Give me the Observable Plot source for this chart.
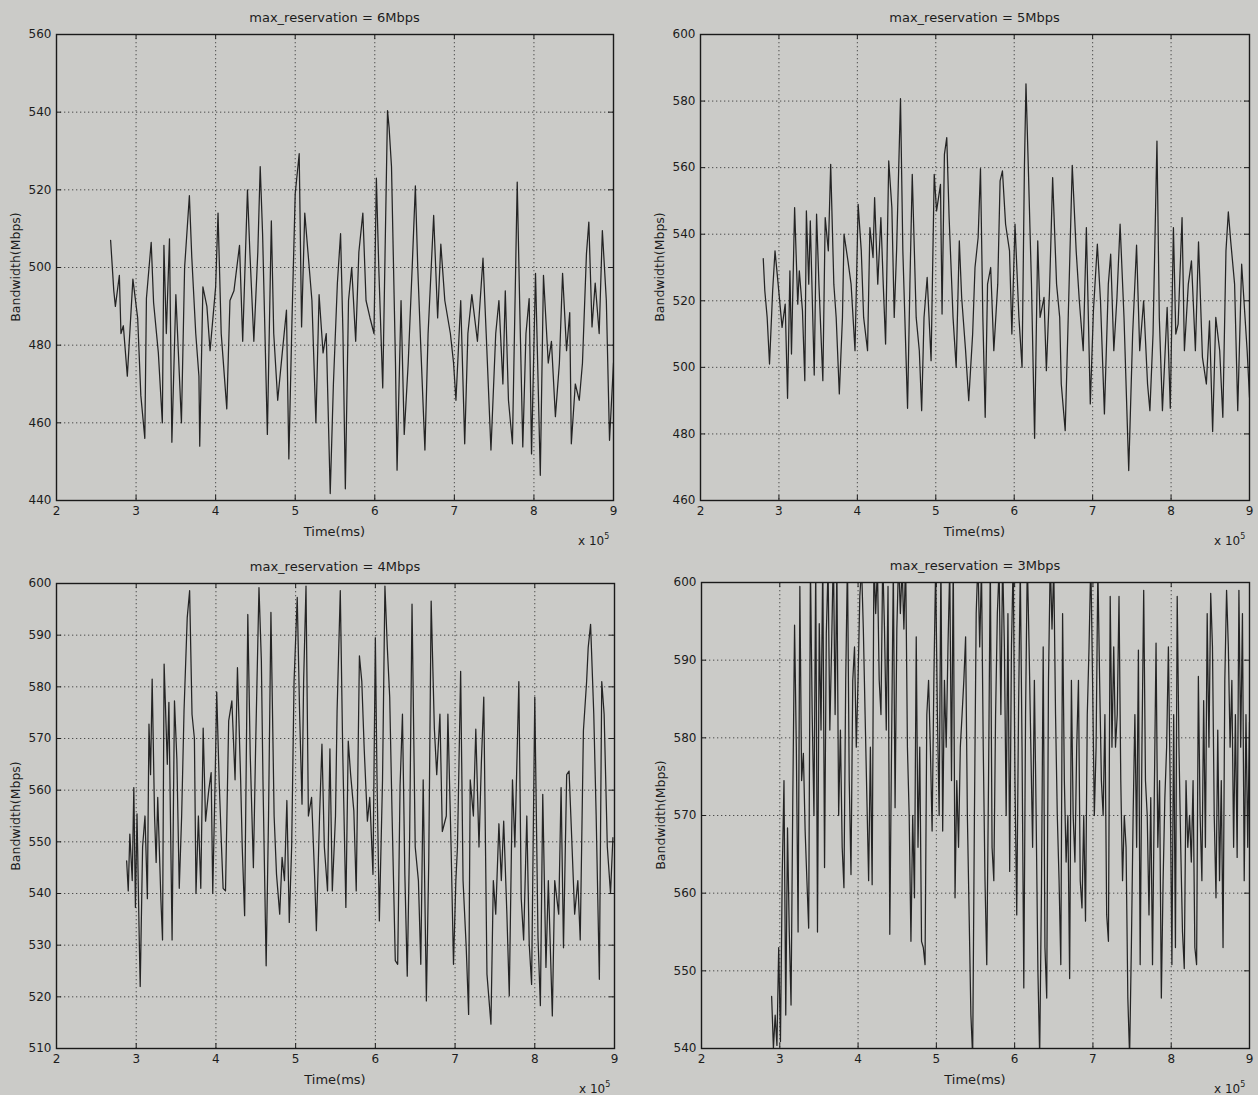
<!DOCTYPE html>
<html>
<head>
<meta charset="utf-8">
<script src="https://cdn.jsdelivr.net/npm/d3@7"></script>
<script src="https://cdn.jsdelivr.net/npm/@observablehq/plot@0.6"></script>
<style>
  body { margin: 0; background: #cbcbc8; }
  #root { position: relative; width: 1258px; height: 1095px; overflow: hidden;
          font-family: "DejaVu Sans", "Liberation Sans", Arial, sans-serif; color: #1c1c1c; }
  .lbl { position: absolute; font-size: 12px; white-space: nowrap; line-height: 1; }
  .plot { position: absolute; }
</style>
</head>
<body>
<div id="root"></div>
<script>
// ---------- data ----------
const xTicks = [2, 3, 4, 5, 6, 7, 8, 9];
const titles = ["max_reservation = 6Mbps", "max_reservation = 5Mbps", "max_reservation = 4Mbps", "max_reservation = 3Mbps"];
const xLabel = "Time(ms)";
const yLabel = "Bandwidth(Mbps)";
const xExponent = "5";

const yTicks6 = [440, 460, 480, 500, 520, 540, 560];
const yTicks5 = [460, 480, 500, 520, 540, 560, 580, 600];
const yTicks4 = [510, 520, 530, 540, 550, 560, 570, 580, 590, 600];
const yTicks3 = [540, 550, 560, 570, 580, 590, 600];

// time (x 10^5 ms) of each read-off sample
const time6 = [2.68,2.72,2.74,2.79,2.81,2.84,2.89,2.96,3.02,3.06,3.11,3.13,3.19,3.22,3.28,3.33,3.35,3.38,3.42,3.45,
  3.50,3.57,3.61,3.67,3.70,3.75,3.79,3.80,3.84,3.89,3.93,4.00,4.03,4.07,4.14,4.18,4.23,4.30,4.34,4.40,
  4.43,4.48,4.53,4.56,4.59,4.65,4.70,4.73,4.78,4.84,4.89,4.92,4.96,5.00,5.05,5.08,5.12,5.16,5.21,5.26,
  5.30,5.35,5.39,5.44,5.48,5.53,5.57,5.60,5.63,5.67,5.71,5.76,5.80,5.85,5.89,5.94,5.99,6.02,6.05,6.10,
  6.16,6.18,6.21,6.26,6.28,6.33,6.37,6.42,6.47,6.51,6.54,6.58,6.63,6.67,6.74,6.79,6.83,6.88,6.95,6.99,
  7.02,7.08,7.13,7.17,7.22,7.29,7.36,7.40,7.46,7.52,7.56,7.61,7.64,7.68,7.73,7.79,7.82,7.86,7.90,7.94,
  7.97,8.02,8.08,8.12,8.18,8.22,8.27,8.32,8.36,8.41,8.45,8.47,8.52,8.57,8.61,8.66,8.69,8.73,8.77,8.82,
  8.86,8.91,8.95,9.00];
const bw6 = [507,494,490,498,483,485,472,497,487,467,456,492,506.5,491,478,460,505.7,483,507.4,455,
  493,460,500,518.5,502.7,483,472,454,495,490,478.6,495,514,483,463.6,491.5,494,505.7,481,520,
  504,481,504,526,508.7,457,512,483,465.8,478.6,489,450.7,487,519,529.3,484.7,514,504,491.5,460,
  493,478,483,441.8,470,496,508.7,483,443,491.5,500,481,504,514,491.5,487,483,523,500,469,
  540.4,536,526,475.4,447.8,491.5,457,475.4,500,521,500,478.6,453,483,513.4,487,506,491.5,483,475.4,
  465.8,491.5,454.6,483,493,481,502.4,483,453,483,491.5,470,494,465.8,454.6,522,491.5,453.8,483,492,
  452,498.5,446.5,498,475.4,481,461.6,475.4,498.5,478.6,488.4,454.6,470,465.8,475.4,503.5,511.7,484.7,496,483,
  509.5,491.5,455.5,475.4];

const time5 = [2.80,2.82,2.85,2.88,2.92,2.95,2.99,3.04,3.08,3.11,3.14,3.16,3.20,3.24,3.26,3.30,3.33,3.35,3.38,3.40,
  3.45,3.48,3.51,3.56,3.59,3.63,3.66,3.70,3.73,3.77,3.81,3.83,3.88,3.92,3.97,4.01,4.05,4.08,4.13,4.16,
  4.20,4.22,4.26,4.30,4.33,4.36,4.40,4.44,4.47,4.50,4.55,4.58,4.64,4.67,4.70,4.75,4.79,4.82,4.85,4.89,
  4.94,4.98,5.01,5.06,5.08,5.11,5.14,5.17,5.22,5.26,5.30,5.33,5.38,5.42,5.47,5.50,5.54,5.57,5.60,5.63,
  5.66,5.70,5.74,5.79,5.82,5.85,5.89,5.94,5.97,6.01,6.06,6.10,6.13,6.15,6.18,6.22,6.26,6.30,6.33,6.38,
  6.41,6.45,6.49,6.54,6.58,6.60,6.65,6.70,6.74,6.79,6.83,6.88,6.92,6.97,7.01,7.06,7.10,7.15,7.20,7.23,
  7.27,7.31,7.35,7.40,7.46,7.51,7.56,7.60,7.65,7.70,7.73,7.77,7.82,7.85,7.89,7.95,7.99,8.03,8.06,8.09,
  8.14,8.17,8.22,8.26,8.31,8.35,8.40,8.45,8.49,8.53,8.57,8.62,8.66,8.70,8.73,8.76,8.81,8.85,8.90,8.97,9.00];
const bw5 = [532.7,523,515,501,523,535,525,512,519,490.7,529,504,548,519,529,517,496,547,525,544,
  497.7,546,525,496,545,535,561,525,515,492,515,540,532,525,505,549,535,515,505,542,
  533,551,525,545,525,507,562,548,515,535,580.7,535,487.7,525,558,515,505,487,515,527,
  502,558,547,555,516,564,569,545,515,500,538,521,505,490,510,530,539,559.7,515,485,
  525,530,505,525,556,559,543,535,510,543,515,500,560,585.2,560,525,478.7,538,515,521,
  499,523,557,525,515,495,481,525,560.7,535,520,505,542,489,517,537,520,486,525,534,
  505,521,543,515,469,510,536.7,505,520,495,487,510,568,515,487,518,487.7,542,510,513,
  545,505,525,532,505,537.7,503,495,514,480.7,515,505,485,535,546.7,538,525,487,531,505,491];

const time4 = [2.88,2.90,2.92,2.95,2.97,2.99,3.01,3.04,3.05,3.08,3.11,3.14,3.16,3.18,3.20,3.23,3.25,3.27,3.31,3.33,
  3.35,3.39,3.41,3.45,3.48,3.51,3.54,3.57,3.60,3.64,3.67,3.70,3.73,3.75,3.78,3.81,3.84,3.87,3.91,3.94,
  3.96,3.99,4.01,4.04,4.07,4.09,4.12,4.16,4.20,4.24,4.27,4.31,4.33,4.36,4.40,4.43,4.47,4.50,4.54,4.57,
  4.59,4.63,4.66,4.69,4.73,4.76,4.80,4.83,4.86,4.89,4.92,4.95,4.98,5.00,5.02,5.05,5.08,5.10,5.13,5.16,
  5.20,5.24,5.26,5.30,5.33,5.36,5.40,5.43,5.46,5.50,5.52,5.56,5.59,5.63,5.66,5.69,5.73,5.76,5.80,5.83,
  5.86,5.90,5.93,5.97,6.00,6.02,6.05,6.09,6.12,6.15,6.18,6.21,6.25,6.28,6.31,6.34,6.37,6.40,6.43,6.46,
  6.50,6.54,6.57,6.60,6.64,6.67,6.70,6.74,6.77,6.81,6.84,6.89,6.91,6.95,6.98,7.01,7.03,7.07,7.10,7.14,
  7.17,7.19,7.23,7.26,7.30,7.33,7.36,7.40,7.45,7.48,7.51,7.55,7.58,7.61,7.65,7.68,7.72,7.75,7.80,7.83,
  7.86,7.90,7.93,7.96,8.00,8.04,8.07,8.10,8.14,8.17,8.22,8.25,8.30,8.33,8.36,8.40,8.43,8.46,8.50,8.54,
  8.57,8.61,8.65,8.67,8.70,8.74,8.77,8.81,8.84,8.87,8.91,8.95,8.98];
const bw4 = [546.3,540.5,551.5,542.5,560.5,537.3,555.4,529.5,522,549,555,539,572.8,563,581.5,555,546,558.6,538.6,531,
  584.4,565,577,531,577.3,566,541,555,575.4,593.4,598.6,574.7,570,540,555,541,572,554,560,563.4,
  540,562,579,562,549,541,540.5,573.4,577.3,562,583.7,562,549,535.7,594,567,545,570,599.2,585,
  562,526,555,594.4,555,543.7,536,547,542.5,558,534.4,549,581,589.2,597.3,574.7,557.3,581,599.5,555,
  558.6,542.5,532.8,555,568.9,549,540.5,568,540.5,555,575.4,598.6,568,537.3,569.5,563,556,540.5,586,581,
  568,554,558.6,543.7,589.5,563,534.7,562,599.5,587.6,578,555,527,526.3,560.8,574.7,543.7,524,550.8,596,
  549,542.5,526.3,562,519.2,546.3,596.6,572,563,574.7,552,555,574.7,549,526.3,542.5,549,583,542.5,529.5,
  516.6,562,555,571.8,549,565.4,578,524.4,514.7,542.5,536,553.5,542.5,554,536,520.2,562,549,581,539,
  531,555,530.2,522.4,578,531.5,518.3,559.2,525.7,542.5,516.3,542.5,536,560.5,529.5,563,563.7,552,536,542.5,
  531,571.5,581,587.6,592.1,574.7,555,523.4,581,574.7,549,540,550.8];

// 3Mbps trace: evenly spaced samples from 2.896 to 9 (x 10^5 ms)
const t3Start = 2.896, t3End = 9;
const bw3 = [546.7,540,544.3,540.4,553,540.9,562.4,574.5,544.3,568.4,555,545.6,
  572.3,594.5,578.8,555,599.5,574.5,578,568,
  561.6,555.5,602,583,570,602,555,594.7,581,603,563.3,593.4,602,581,591.7,604,583,602,570,581,
  565.9,560.7,587.4,603,574.5,562.4,587.4,591.7,578.8,587.4,598.2,602,594,583,572.3,561.6,578.8,561.1,603,596,
  602,587.4,583,603,594,581,599.5,554.7,578.8,602,571,594,603,596,602,594,603,578.8,570,553.8,
  570,559.4,593,565.9,578.8,553.8,553,550.8,583,587.4,578.8,568,587.4,602,583,570,603,568,587.4,578.8,
  591.7,602,574.5,603,559.4,574.5,565.9,578.8,583,587.4,593,570,557.2,544.3,539,570,596,603,591.7,602,
  578.8,561.6,550.8,574.5,603,565.9,561.6,583,596,602,583,603,591.7,570,596,562.8,591.7,603,574.5,557.2,
  583,602,578.8,547.8,583,603,591.7,578.8,565.9,587.4,570,550,539,560,591.7,553,546.5,587.4,603,594,
  602,583,570,561.6,550.8,596,574.5,564,570,549,587.4,570,564,578.8,587.4,561.6,558.1,570,556.4,583,
  591.7,603,587.4,570,578.8,602,587.4,574.5,570,583,557.2,553.8,598.2,578.8,591.7,578.8,583,598.2,574.5,561.6,
  570,565.9,546.5,539,553,570,583,565.9,591.3,550.8,578.8,599,574.5,570,557.2,572.3,550.8,572.3,592.2,565.9,
  574.5,546.5,561.6,572.3,578.8,591.7,574.5,550.8,583,553,598.2,578.8,565.9,555,550.3,574.5,565.9,570,564,574.5,
  553,550.8,587.9,570,561.6,584.8,565.9,596,578.8,598.6,591.7,570,559.4,581,561.6,574.5,553,587.4,599,591.7,
  578.8,587.4,565.9,583,564.6,599,578.8,596,561.6,583,565.9,582];
const time3 = bw3.map((_, i) => t3Start + i * (t3End - t3Start) / (bw3.length - 1));

// ---------- layout ----------
const panels = [
  {times: time6, values: bw6, domain: [440, 560], yTicks: yTicks6, title: titles[0], left: 56, right: 613, top: 34, bottom: 500},
  {times: time5, values: bw5, domain: [460, 600], yTicks: yTicks5, title: titles[1], left: 700, right: 1249, top: 34, bottom: 500},
  {times: time4, values: bw4, domain: [510, 600], yTicks: yTicks4, title: titles[2], left: 56, right: 614, top: 583, bottom: 1048},
  {times: time3, values: bw3, domain: [540, 600], yTicks: yTicks3, title: titles[3], left: 701, right: 1249, top: 582, bottom: 1048}
];

const root = document.getElementById("root");
const FONT = '"DejaVu Sans", "Liberation Sans", Arial, sans-serif';

function addLabel(html, x, y, extra) {
  const d = document.createElement("div");
  d.className = "lbl";
  d.innerHTML = html;
  d.style.left = x + "px";
  d.style.top = y + "px";
  if (extra) Object.assign(d.style, extra);
  root.appendChild(d);
  return d;
}

panels.forEach(cfg => {
  const n = Math.min(cfg.times.length, cfg.values.length);
  const data = d3.range(n).map(i => ({t: cfg.times[i], v: cfg.values[i]}));
  const W = cfg.right - cfg.left, H = cfg.bottom - cfg.top;
  const ml = 56, mt = 34, mr = 20, mb = 30;
  const innerX = xTicks.slice(1, -1);
  const innerY = cfg.yTicks.slice(1, -1);
  const grid = {stroke: "#2e2e2e", strokeOpacity: 0.8, strokeWidth: 1, strokeDasharray: "1.3,2.7"};
  const svg = Plot.plot({
    width: W + ml + mr,
    height: H + mt + mb,
    marginLeft: ml, marginRight: mr, marginTop: mt, marginBottom: mb,
    style: {background: "transparent", fontFamily: FONT, fontSize: "12px", color: "#1c1c1c", overflow: "visible"},
    x: {domain: [2, 9]},
    y: {domain: cfg.domain},
    marks: [
      Plot.gridX(innerX, grid),
      Plot.gridY(innerY, grid),
      Plot.line(data, {x: "t", y: "v", stroke: "#242424", strokeWidth: 1.25, clip: true}),
      Plot.tickX(xTicks, {x: d => d, insetTop: H - 5, stroke: "#1e1e1e"}),
      Plot.tickX(xTicks, {x: d => d, insetBottom: H - 5, stroke: "#1e1e1e"}),
      Plot.tickY(cfg.yTicks, {y: d => d, insetRight: W - 5, stroke: "#1e1e1e"}),
      Plot.tickY(cfg.yTicks, {y: d => d, insetLeft: W - 5, stroke: "#1e1e1e"}),
      Plot.axisX({ticks: xTicks, tickSize: 0, tickPadding: 6, label: null, tickFormat: d => String(d)}),
      Plot.axisY({ticks: cfg.yTicks, tickSize: 0, tickPadding: 5, label: null, tickFormat: d => String(d)}),
      Plot.frame({stroke: "#1a1a1a", strokeWidth: 1.4})
    ]
  });
  svg.classList.add("plot");
  svg.style.left = (cfg.left - ml) + "px";
  svg.style.top = (cfg.top - mt) + "px";
  root.appendChild(svg);

  const cx = (cfg.left + cfg.right) / 2;
  addLabel(cfg.title, cx, cfg.top - 23, {transform: "translateX(-50%)", fontSize: "13px"});
  addLabel(xLabel, cx, cfg.bottom + 25, {transform: "translateX(-50%)", fontSize: "13px"});
  addLabel("x 10<sup style='font-size:8px;vertical-align:6px'>" + xExponent + "</sup>", cfg.right - 35, cfg.bottom + 33);
  const ly = (cfg.top + cfg.bottom) / 2;
  addLabel(yLabel, cfg.left - 40, ly, {transform: "translate(-50%,-50%) rotate(-90deg)", fontSize: "12.5px"});
});
</script>
</body>
</html>
